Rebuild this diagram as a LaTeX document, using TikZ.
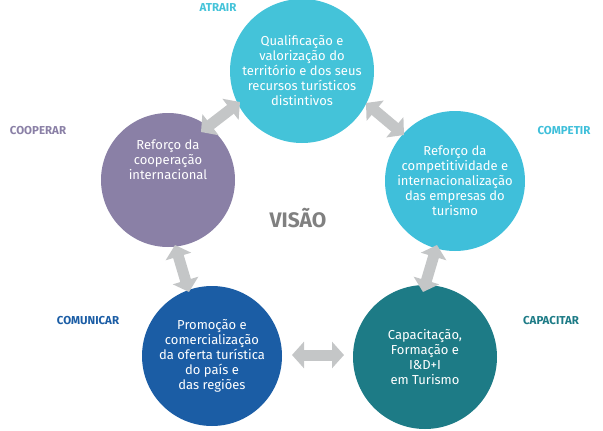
\documentclass[tikz,border=0pt]{standalone}
\usepackage{fontspec}
\setmainfont{Fira Sans}
\usetikzlibrary{arrows.meta}
\definecolor{cA}{HTML}{44C3D9}
\definecolor{cB}{HTML}{3FBFDA}
\definecolor{cC}{HTML}{1D7B86}
\definecolor{cD}{HTML}{1B5DA5}
\definecolor{cE}{HTML}{8A80A6}
\definecolor{ar}{HTML}{C4C6C7}
\begin{document}
\begin{tikzpicture}[x=1pt,y=-1pt,
 circ/.style={circle,inner sep=0pt,text=white,align=center,font=\fontsize{13}{15}\selectfont},
 lab/.style={font=\bfseries\fontsize{11.5}{13}\selectfont},
 dar/.style={draw=ar,line width=11pt,{Triangle[length=12pt,width=26pt]}-{Triangle[length=12pt,width=26pt]}}]
\useasboundingbox (0,0) rectangle (603,431);
\node[circ,fill=cA,minimum size=144pt] (a) at (302,71) {Qualificação e\\valorização do\\território e dos seus\\recursos turísticos\\distintivos};
\node[circ,fill=cB,minimum size=140pt] (b) at (455,181) {Reforço da\\competitividade e\\internacionalização\\das empresas do\\turismo};
\node[circ,fill=cC,minimum size=144pt] (c) at (425,357) {Capacitação,\\Formação e\\I\&D+I\\em Turismo};
\node[circ,fill=cD,minimum size=140pt] (d) at (212,356) {Promoção e\\comercialização\\da oferta turística\\do país e\\das regiões};
\node[circ,fill=cE,minimum size=134pt] (e) at (168,180) {Reforço da\\cooperação\\internacional\\[26pt]};
\node[font=\bfseries\fontsize{21}{23}\selectfont,text=gray] (v) at (298,218) {VISÃO};
\node[lab,text=cA] (la) at (218,8) {ATRAIR};
\node[lab,text=cB] (lb) at (564,131) {COMPETIR};
\node[lab,text=cC] (lc) at (551,321) {CAPACITAR};
\node[lab,text=cD] (ld) at (88,321) {COMUNICAR};
\node[lab,text=cE] (le) at (38,131) {COOPERAR};
\coordinate (ae1) at (201,132); \coordinate (ae2) at (240,102);
\coordinate (ab1) at (366,103); \coordinate (ab2) at (404,135);
\coordinate (ed1) at (175,245); \coordinate (ed2) at (189,292);
\coordinate (bc1) at (437,245); \coordinate (bc2) at (423,292);
\coordinate (dc1) at (292,355); \coordinate (dc2) at (344,355);
\draw[dar] (ae1) -- (ae2);
\draw[dar] (ab1) -- (ab2);
\draw[dar] (ed1) -- (ed2);
\draw[dar] (bc1) -- (bc2);
\draw[dar] (dc1) -- (dc2);
\end{tikzpicture}
\end{document}
